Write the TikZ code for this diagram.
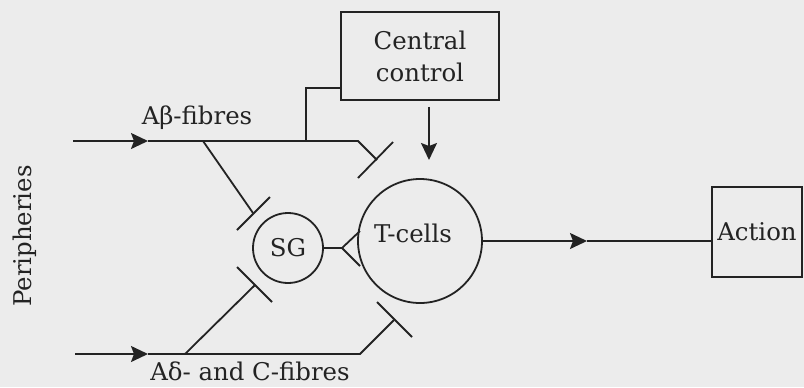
\documentclass[tikz,border=0pt]{standalone}
\usepackage{fontspec}
\setmainfont{DejaVu Serif}
\usetikzlibrary{arrows.meta}
\definecolor{paper}{RGB}{236,236,236}
\definecolor{ink}{RGB}{35,35,35}

\begin{document}
\begin{tikzpicture}[x=0.5pt,y=-0.5pt,>={Stealth[length=8.5pt,width=8pt,inset=1.5pt]},line width=0.9pt,draw=ink,text=ink,font=\fontsize{12.2}{15}\selectfont]
    \tikzstyle{box}=[rectangle, draw, align=center, inner sep=0pt]
    \tikzstyle{cell}=[circle, draw, inner sep=0pt]
    \fill[paper] (0,0) rectangle (804,387);
    \useasboundingbox (0,0) rectangle (804,387);

    \node[box, minimum width=79pt, minimum height=44pt] (central) at (420,56) {Central\\[1pt]control};
    \node[box, minimum width=45pt, minimum height=45pt] (action) at (757,232) {Action};
    \node[cell, minimum size=35pt] (sg) at (288,248) {SG};
    \node[cell, minimum size=62pt] (tcells) at (420,241) {};
    \node (tlabel) at ([xshift=-3.5pt,yshift=4pt]tcells.center) {T-cells};
    \node[rotate=90] (periph) at (25,236) {Peripheries};
    \node (ablabel) at (197,118) {Aβ-fibres};
    \node (adlabel) at (250,371) {Aδ- and C-fibres};

    % A-beta fibres
    \coordinate (abin) at (73,141);
    \coordinate (abarr) at (148,141);
    \coordinate (absg) at (203,141);
    \coordinate (abcc) at (306,141);
    \coordinate (abend) at (358,141);
    \coordinate (abstem) at (377,160);
    \coordinate (abbar1) at (393,142);
    \coordinate (abbar2) at (358,178);
    \coordinate (sgup) at (253,213);
    \coordinate (sgup1) at (270,197);
    \coordinate (sgup2) at (237,230);
    \draw[->] (abin) -- (abarr);
    \draw (abarr) -- (abend) -- (abstem);
    \draw (abbar1) -- (abbar2);
    \draw (absg) -- (sgup);
    \draw (sgup1) -- (sgup2);

    % A-delta and C fibres
    \coordinate (adin) at (75,354);
    \coordinate (adarr) at (148,354);
    \coordinate (adsg) at (185,354);
    \coordinate (adend) at (360,354);
    \coordinate (adstem) at (394,320);
    \coordinate (adbar1) at (377,302);
    \coordinate (adbar2) at (412,337);
    \coordinate (sgdn) at (255,285);
    \coordinate (sgdn1) at (237,267);
    \coordinate (sgdn2) at (272,302);
    \draw[->] (adin) -- (adarr);
    \draw (adarr) -- (adend) -- (adstem);
    \draw (adbar1) -- (adbar2);
    \draw (adsg) -- (sgdn);
    \draw (sgdn1) -- (sgdn2);

    % SG to T-cells
    \coordinate (fork) at (342,248);
    \coordinate (fork1) at (360,231);
    \coordinate (fork2) at (360,266);
    \draw (sg.east) -- (fork);
    \draw (fork1) -- (fork) -- (fork2);

    % central control
    \coordinate (ccarr) at (429,160);
    \draw ([yshift=-16pt]central.west) -| (abcc);
    \draw[->] ([xshift=4.5pt,yshift=-3pt]central.south) -- (ccarr);

    % output
    \coordinate (outarr) at (587,241);
    \draw[->] (tcells.east) -- (outarr);
    \draw (outarr) -- (action.west |- outarr);
  \end{tikzpicture}
\end{document}
